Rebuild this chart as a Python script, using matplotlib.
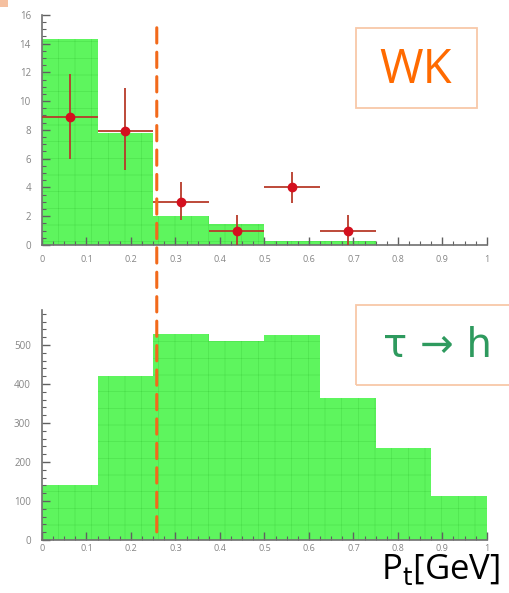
import numpy as np
import matplotlib
matplotlib.use('Agg')
import matplotlib.pyplot as plt
from matplotlib.patches import Rectangle, ConnectionPatch
from matplotlib.ticker import MultipleLocator

plt.rcParams['font.family'] = ['Open Sans', 'DejaVu Sans']
plt.rcParams['hatch.linewidth'] = 0.35

# bin edges (Pt, GeV) shared by both histograms
bin_edges = [0.0, 0.125, 0.25, 0.375, 0.5, 0.625, 0.75, 0.875, 1.0]

# WK: simulated histogram + measured points
wk_hist = [14.3, 7.8, 2.0, 1.45, 0.3, 0.3, 0.0, 0.0]
wk_x = [0.0625, 0.1875, 0.3125, 0.4375, 0.5625, 0.6875]
wk_y = [8.9, 7.9, 3.0, 1.0, 4.0, 1.0]
wk_err_lo = [2.9, 2.7, 1.3, 1.0, 1.1, 1.0]
wk_err_hi = [3.0, 3.0, 1.4, 1.1, 1.1, 1.1]
wk_xerr = [0.0625] * 6

# tau -> h histogram
tau_hist = [141, 420, 528, 510, 525, 364, 236, 113]

pt_cut = 0.258

top_yticks = [0, 2, 4, 6, 8, 10, 12, 14, 16]
bot_yticks = [0, 100, 200, 300, 400, 500]
xticks = [0, 0.1, 0.2, 0.3, 0.4, 0.5, 0.6, 0.7, 0.8, 0.9, 1]
xticklabels = ['0', '0.1', '0.2', '0.3', '0.4', '0.5', '0.6', '0.7', '0.8', '0.9', '1']

GREEN = '#5ef55e'
HATCH = '#48dc48'
ORANGE = '#f26a1b'

fig = plt.figure(figsize=(5.09, 5.93), dpi=100)

ax1 = fig.add_axes([0.0825, 0.587, 0.874, 0.388])
ax2 = fig.add_axes([0.0825, 0.0894, 0.874, 0.388])


def style(ax, yticks, ymax, ymin_step, xpad):
    ax.set_xlim(0, 1)
    ax.set_ylim(0, ymax)
    for s in ['top', 'right']:
        ax.spines[s].set_visible(False)
    for s in ['left', 'bottom']:
        ax.spines[s].set_color('#707070')
        ax.spines[s].set_linewidth(1.2)
    ax.set_xticks(xticks)
    ax.set_xticklabels(xticklabels)
    ax.set_yticks(yticks)
    ax.xaxis.set_minor_locator(MultipleLocator(0.025))
    ax.yaxis.set_minor_locator(MultipleLocator(ymin_step))
    ax.tick_params(which='both', direction='in', colors='#606060',
                   labelcolor='#858585')
    ax.tick_params(axis='x', labelsize=6.5, pad=xpad)
    ax.tick_params(axis='y', labelsize=7, pad=8)
    ax.tick_params(which='major', length=6, width=1)
    ax.tick_params(which='minor', length=3, width=0.8)
    ax.set_facecolor('none')


ax1.stairs(wk_hist, bin_edges, fill=True, facecolor=GREEN,
           edgecolor=HATCH, hatch='+', linewidth=0, zorder=1)
ax1.errorbar(wk_x, wk_y, yerr=[wk_err_lo, wk_err_hi], xerr=wk_xerr,
             fmt='o', color='#d4101e', ecolor='#b83a2a', elinewidth=1.3,
             markersize=6, capsize=0, zorder=3)
style(ax1, top_yticks, 16, 0.5, 7)

ax2.stairs(tau_hist, bin_edges, fill=True, facecolor=GREEN,
           edgecolor=HATCH, hatch='+', linewidth=0, zorder=1)
style(ax2, bot_yticks, 590, 20, 3)

# cut line spanning both panels
con = ConnectionPatch(xyA=(pt_cut, 15.1), coordsA=ax1.transData,
                      xyB=(pt_cut, 0), coordsB=ax2.transData,
                      color=ORANGE, linewidth=2.2, linestyle=(0, (5, 3)),
                      zorder=10)
fig.add_artist(con)

# label boxes
fig.add_artist(Rectangle((356 / 509, 1 - 108 / 593), 121 / 509, 80 / 593,
                         transform=fig.transFigure, fill=False,
                         edgecolor='#f8c8a8', linewidth=1.3))
fig.text(416 / 509, 1 - 70 / 593, 'WK', color='#ff6a00', fontsize=34,
         ha='center', va='center')

fig.add_artist(Rectangle((356 / 509, 1 - 385 / 593), 160 / 509, 80 / 593,
                         transform=fig.transFigure, fill=False,
                         edgecolor='#f8c8a8', linewidth=1.3))
fig.text(437 / 509, 1 - 346 / 593, 'τ → h', color='#2e9a5e', fontsize=29,
         ha='center', va='center', family=['DejaVu Sans'])

fig.text(500 / 509, 14 / 593, r'P$_{\mathrm{t}}$[GeV]', color='black',
         fontsize=25, ha='right', va='baseline')

# small orange corner mark
fig.add_artist(Rectangle((0, 1 - 7 / 593), 8 / 509, 7 / 593,
                         transform=fig.transFigure, color='#f5c0a0',
                         linewidth=0))

fig.savefig('out.png', dpi=100)
